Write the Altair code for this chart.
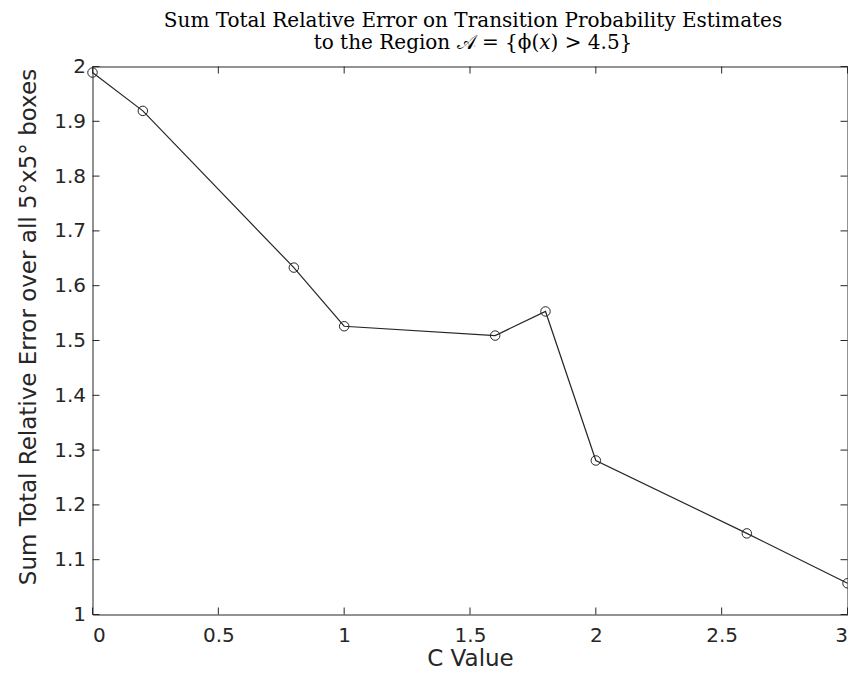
import altair as alt
import pandas as pd

c_values = [0.0, 0.2, 0.8, 1.0, 1.6, 1.8, 2.0, 2.6, 3.0]
errors = [1.989, 1.919, 1.633, 1.526, 1.509, 1.553, 1.281, 1.148, 1.057]
x_ticks = [0, 0.5, 1, 1.5, 2, 2.5, 3]
y_ticks = [1, 1.1, 1.2, 1.3, 1.4, 1.5, 1.6, 1.7, 1.8, 1.9, 2]

W, H = 755, 548
TICK = 7
INK = "#262626"

df = pd.DataFrame({"c": c_values, "err": errors})
xt = pd.DataFrame({"v": x_ticks})
yt = pd.DataFrame({"v": y_ticks})

xscale = alt.Scale(domain=[0, 3], nice=False, zero=False)
yscale = alt.Scale(domain=[1, 2], nice=False, zero=False)

xaxis = alt.Axis(values=x_ticks, format="~g", ticks=False, domain=False, grid=False,
                 labelFont="DejaVu Sans", labelFontSize=20, labelColor=INK, labelPadding=11,
                 title="C Value", titleFont="DejaVu Sans", titleFontSize=23,
                 titleFontWeight="normal", titleColor=INK, titlePadding=2)
yaxis = alt.Axis(values=y_ticks, format="~g", ticks=False, domain=False, grid=False,
                 labelFont="DejaVu Sans", labelFontSize=20, labelColor=INK, labelPadding=7,
                 title="Sum Total Relative Error over all 5°x5° boxes", titleFont="DejaVu Sans",
                 titleFontSize=23, titleFontWeight="normal", titleColor=INK, titlePadding=13,
                 titleY=260)

line = alt.Chart(df).mark_line(color=INK, strokeWidth=1.2).encode(
    x=alt.X("c:Q", scale=xscale, axis=xaxis),
    y=alt.Y("err:Q", scale=yscale, axis=yaxis),
)
pts = alt.Chart(df).mark_point(shape="circle", size=90, filled=False, color=INK,
                               strokeWidth=1, opacity=1).encode(
    x=alt.X("c:Q", scale=xscale),
    y=alt.Y("err:Q", scale=yscale),
)

xb = alt.Chart(xt).mark_rule(color=INK, strokeWidth=1).encode(
    x=alt.X("v:Q", scale=xscale), y=alt.value(H), y2=alt.value(H - TICK))
xtp = alt.Chart(xt).mark_rule(color=INK, strokeWidth=1).encode(
    x=alt.X("v:Q", scale=xscale), y=alt.value(0), y2=alt.value(TICK))
yl = alt.Chart(yt).mark_rule(color=INK, strokeWidth=1).encode(
    y=alt.Y("v:Q", scale=yscale), x=alt.value(0), x2=alt.value(TICK))
yr = alt.Chart(yt).mark_rule(color=INK, strokeWidth=1).encode(
    y=alt.Y("v:Q", scale=yscale), x=alt.value(W), x2=alt.value(W - TICK))

chart = alt.layer(xb, xtp, yl, yr, line, pts).properties(
    width=W, height=H,
    background="white",
    autosize=alt.AutoSizeParams(type="none"),
    padding={"left": 84.5, "top": 58.5, "right": 0, "bottom": 56},
    title=alt.TitleParams(
        text=["Sum Total Relative Error on Transition Probability Estimates",
              "to the Region 𝒜 = {ϕ(𝑥) > 4.5}"],
        font="DejaVu Serif", fontSize=20, fontWeight="normal", color="black",
        anchor="middle", frame="group", dx=3, offset=4, lineHeight=22,
    ),
).configure_view(stroke=INK, strokeWidth=1)

chart.save("out.html", embed_options={"renderer": "svg", "actions": False})
